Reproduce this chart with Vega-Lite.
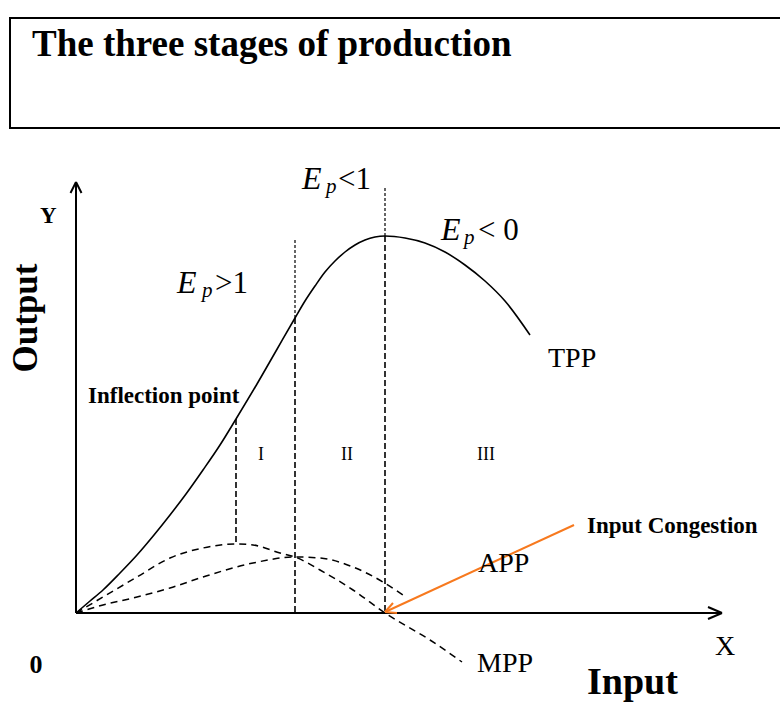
{
  "$schema": "https://vega.github.io/schema/vega-lite/v6.json",
  "width": 780,
  "height": 702,
  "autosize": {"type": "none"},
  "padding": 0,
  "background": "white",
  "config": {"view": {"stroke": null}},
  "datasets": {
    "box": [{"x": -66, "y": 595, "x2": 714, "y2": 485}],
    "curves": [
      {"c": "TPP", "x": 0, "y": 0}, {"c": "TPP", "x": 14, "y": 12}, {"c": "TPP", "x": 27, "y": 23},
      {"c": "TPP", "x": 44, "y": 40}, {"c": "TPP", "x": 61, "y": 58}, {"c": "TPP", "x": 78, "y": 78},
      {"c": "TPP", "x": 94, "y": 98}, {"c": "TPP", "x": 110, "y": 119}, {"c": "TPP", "x": 127, "y": 143},
      {"c": "TPP", "x": 144, "y": 168}, {"c": "TPP", "x": 160, "y": 194},
      {"c": "TPP", "x": 181, "y": 229}, {"c": "TPP", "x": 200, "y": 262}, {"c": "TPP", "x": 219, "y": 295},
      {"c": "TPP", "x": 229, "y": 312}, {"c": "TPP", "x": 239, "y": 327}, {"c": "TPP", "x": 249, "y": 341},
      {"c": "TPP", "x": 259, "y": 352}, {"c": "TPP", "x": 269, "y": 361}, {"c": "TPP", "x": 279, "y": 368},
      {"c": "TPP", "x": 289, "y": 373}, {"c": "TPP", "x": 299, "y": 376}, {"c": "TPP", "x": 309, "y": 377},
      {"c": "TPP", "x": 329, "y": 375}, {"c": "TPP", "x": 349, "y": 370}, {"c": "TPP", "x": 369, "y": 361},
      {"c": "TPP", "x": 389, "y": 348}, {"c": "TPP", "x": 409, "y": 332}, {"c": "TPP", "x": 429, "y": 312},
      {"c": "TPP", "x": 454, "y": 278},
      {"c": "MPP", "x": 0, "y": 0}, {"c": "MPP", "x": 27, "y": 16}, {"c": "MPP", "x": 61, "y": 36},
      {"c": "MPP", "x": 94, "y": 55}, {"c": "MPP", "x": 127, "y": 65}, {"c": "MPP", "x": 160, "y": 69},
      {"c": "MPP", "x": 177, "y": 68}, {"c": "MPP", "x": 204, "y": 60}, {"c": "MPP", "x": 219, "y": 56},
      {"c": "MPP", "x": 244, "y": 43}, {"c": "MPP", "x": 277, "y": 23}, {"c": "MPP", "x": 309, "y": 0},
      {"c": "MPP", "x": 354, "y": -27}, {"c": "MPP", "x": 386, "y": -49},
      {"c": "APP", "x": 0, "y": 0}, {"c": "APP", "x": 27, "y": 8}, {"c": "APP", "x": 61, "y": 16},
      {"c": "APP", "x": 94, "y": 25}, {"c": "APP", "x": 127, "y": 36}, {"c": "APP", "x": 177, "y": 50},
      {"c": "APP", "x": 219, "y": 56}, {"c": "APP", "x": 244, "y": 55}, {"c": "APP", "x": 277, "y": 46},
      {"c": "APP", "x": 307, "y": 31}, {"c": "APP", "x": 327, "y": 18}
    ],
    "segs": [
      {"g": "axis", "x": 0, "y": 0, "x2": 0, "y2": 431},
      {"g": "axis", "x": 0, "y": 0, "x2": 646, "y2": 0},
      {"g": "axis", "x": -5.5, "y": 420, "x2": 0, "y2": 431},
      {"g": "axis", "x": 5.5, "y": 420, "x2": 0, "y2": 431},
      {"g": "axis", "x": 632, "y": 6, "x2": 646, "y2": 0},
      {"g": "axis", "x": 632, "y": -6, "x2": 646, "y2": 0},
      {"g": "thin", "x": 219, "y": 373, "x2": 219, "y2": 295},
      {"g": "thin", "x": 309, "y": 425, "x2": 309, "y2": 377},
      {"g": "dash", "x": 160, "y": 194, "x2": 160, "y2": 69},
      {"g": "dash", "x": 219, "y": 295, "x2": 219, "y2": 0},
      {"g": "dash", "x": 309, "y": 377, "x2": 309, "y2": 0},
      {"g": "orange", "x": 498, "y": 88, "x2": 309, "y2": 1},
      {"g": "orange", "x": 317, "y": 10, "x2": 309, "y2": 1},
      {"g": "orange", "x": 321, "y": 0, "x2": 309, "y2": 1}
    ],
    "texts": [
      {"t": "The three stages of production", "x": -44, "y": 557, "s": "title"},
      {"t": "Y", "x": -36, "y": 390, "s": "boldL"},
      {"t": "Inflection point", "x": 12, "y": 210, "s": "boldL"},
      {"t": "Input Congestion", "x": 511, "y": 80, "s": "boldL"},
      {"t": "Output", "x": -39, "y": 295, "s": "output"},
      {"t": "0", "x": -40, "y": -60, "s": "zero"},
      {"t": "Input", "x": 511, "y": -81, "s": "input"},
      {"t": "TPP", "x": 472, "y": 246, "s": "lab"},
      {"t": "APP", "x": 402, "y": 41, "s": "lab"},
      {"t": "MPP", "x": 401, "y": -59, "s": "lab"},
      {"t": "X", "x": 639, "y": -42, "s": "lab"},
      {"t": ">1", "x": 139, "y": 320, "s": "rel"},
      {"t": "<1", "x": 262, "y": 424, "s": "rel"},
      {"t": "< 0", "x": 402, "y": 373, "s": "rel"},
      {"t": "I", "x": 185, "y": 153, "s": "roman"},
      {"t": "II", "x": 271, "y": 153, "s": "roman"},
      {"t": "III", "x": 410, "y": 153, "s": "roman"},
      {"t": "E", "x": 101, "y": 320, "s": "E"},
      {"t": "E", "x": 226, "y": 424, "s": "E"},
      {"t": "E", "x": 365, "y": 373, "s": "E"},
      {"t": "p", "x": 126, "y": 316, "s": "sub"},
      {"t": "p", "x": 250, "y": 420, "s": "sub"},
      {"t": "p", "x": 388, "y": 369, "s": "sub"}
    ]
  },
  "encoding": {
    "x": {"field": "x", "type": "quantitative", "scale": {"domain": [-76, 704], "nice": false, "zero": false}, "axis": null},
    "y": {"field": "y", "type": "quantitative", "scale": {"domain": [-89, 613], "nice": false, "zero": false}, "axis": null}
  },
  "layer": [
    {
      "data": {"name": "box"},
      "mark": {"type": "rect", "fill": "white", "stroke": "black", "strokeWidth": 2, "clip": true},
      "encoding": {"x2": {"field": "x2"}, "y2": {"field": "y2"}}
    },
    {
      "data": {"name": "curves"},
      "transform": [{"filter": "datum.c === 'TPP'"}],
      "mark": {"type": "line", "color": "black", "strokeWidth": 1.6, "interpolate": "monotone"},
      "encoding": {"order": {"field": "x", "type": "quantitative"}}
    },
    {
      "data": {"name": "curves"},
      "transform": [{"filter": "datum.c !== 'TPP'"}],
      "mark": {"type": "line", "color": "black", "strokeWidth": 1.5, "strokeDash": [7, 5], "interpolate": "monotone"},
      "encoding": {"detail": {"field": "c", "type": "nominal"}, "order": {"field": "x", "type": "quantitative"}}
    },
    {
      "data": {"name": "segs"},
      "transform": [{"filter": "datum.g === 'axis'"}],
      "mark": {"type": "rule", "color": "black", "strokeWidth": 2},
      "encoding": {"x2": {"field": "x2"}, "y2": {"field": "y2"}}
    },
    {
      "data": {"name": "segs"},
      "transform": [{"filter": "datum.g === 'thin'"}],
      "mark": {"type": "rule", "color": "black", "strokeWidth": 1.2, "strokeDash": [3, 2]},
      "encoding": {"x2": {"field": "x2"}, "y2": {"field": "y2"}}
    },
    {
      "data": {"name": "segs"},
      "transform": [{"filter": "datum.g === 'dash'"}],
      "mark": {"type": "rule", "color": "black", "strokeWidth": 1.6, "strokeDash": [6, 3]},
      "encoding": {"x2": {"field": "x2"}, "y2": {"field": "y2"}}
    },
    {
      "data": {"name": "segs"},
      "transform": [{"filter": "datum.g === 'orange'"}],
      "mark": {"type": "rule", "color": "#F7791E", "strokeWidth": 2},
      "encoding": {"x2": {"field": "x2"}, "y2": {"field": "y2"}}
    },
    {
      "data": {"name": "texts"},
      "transform": [{"filter": "datum.s === 'title'"}],
      "mark": {"type": "text", "font": "Liberation Serif", "fontWeight": "bold", "fontSize": 37, "align": "left", "baseline": "alphabetic", "color": "black"},
      "encoding": {"text": {"field": "t"}}
    },
    {
      "data": {"name": "texts"},
      "transform": [{"filter": "datum.s === 'boldL'"}],
      "mark": {"type": "text", "font": "Liberation Serif", "fontWeight": "bold", "fontSize": 23, "align": "left", "baseline": "alphabetic", "color": "black"},
      "encoding": {"text": {"field": "t"}}
    },
    {
      "data": {"name": "texts"},
      "transform": [{"filter": "datum.s === 'output'"}],
      "mark": {"type": "text", "font": "Liberation Serif", "fontWeight": "bold", "fontSize": 35, "align": "center", "baseline": "alphabetic", "angle": 270, "color": "black"},
      "encoding": {"text": {"field": "t"}}
    },
    {
      "data": {"name": "texts"},
      "transform": [{"filter": "datum.s === 'zero'"}],
      "mark": {"type": "text", "font": "Liberation Serif", "fontWeight": "bold", "fontSize": 26, "align": "center", "baseline": "alphabetic", "color": "black"},
      "encoding": {"text": {"field": "t"}}
    },
    {
      "data": {"name": "texts"},
      "transform": [{"filter": "datum.s === 'input'"}],
      "mark": {"type": "text", "font": "Liberation Serif", "fontWeight": "bold", "fontSize": 38, "align": "left", "baseline": "alphabetic", "color": "black"},
      "encoding": {"text": {"field": "t"}}
    },
    {
      "data": {"name": "texts"},
      "transform": [{"filter": "datum.s === 'lab'"}],
      "mark": {"type": "text", "font": "Liberation Serif", "fontSize": 28, "align": "left", "baseline": "alphabetic", "color": "black"},
      "encoding": {"text": {"field": "t"}}
    },
    {
      "data": {"name": "texts"},
      "transform": [{"filter": "datum.s === 'rel'"}],
      "mark": {"type": "text", "font": "Liberation Serif", "fontSize": 31, "align": "left", "baseline": "alphabetic", "color": "black"},
      "encoding": {"text": {"field": "t"}}
    },
    {
      "data": {"name": "texts"},
      "transform": [{"filter": "datum.s === 'roman'"}],
      "mark": {"type": "text", "font": "Liberation Serif", "fontSize": 18, "align": "center", "baseline": "alphabetic", "color": "black"},
      "encoding": {"text": {"field": "t"}}
    },
    {
      "data": {"name": "texts"},
      "transform": [{"filter": "datum.s === 'E'"}],
      "mark": {"type": "text", "font": "Liberation Serif", "fontStyle": "italic", "fontSize": 32, "align": "left", "baseline": "alphabetic", "color": "black"},
      "encoding": {"text": {"field": "t"}}
    },
    {
      "data": {"name": "texts"},
      "transform": [{"filter": "datum.s === 'sub'"}],
      "mark": {"type": "text", "font": "Liberation Serif", "fontStyle": "italic", "fontSize": 21, "align": "left", "baseline": "alphabetic", "color": "black"},
      "encoding": {"text": {"field": "t"}}
    }
  ]
}
